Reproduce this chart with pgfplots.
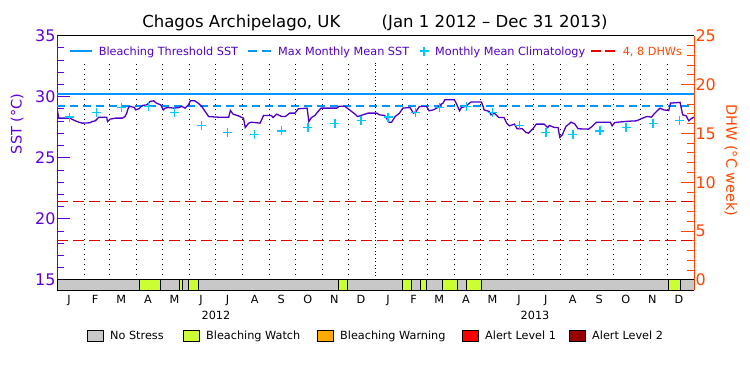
\documentclass[border=0pt]{standalone}
\usepackage{pgfplots}
\pgfplotsset{compat=1.18}
\usepackage{fontspec}
\setmainfont{DejaVu Sans}
\definecolor{sstpurple}{HTML}{5000C8}
\definecolor{axpurple}{HTML}{6000DC}
\definecolor{thrblue}{HTML}{0096FF}
\definecolor{climcyan}{HTML}{00C8FF}
\definecolor{dhwred}{HTML}{E60000}
\definecolor{dhworange}{HTML}{FF4600}
\definecolor{nostress}{HTML}{C8C8C8}
\definecolor{watch}{HTML}{CCFF33}
\definecolor{warning}{HTML}{FFAA00}
\definecolor{alertone}{HTML}{FF0000}
\definecolor{alerttwo}{HTML}{960000}
\newcommand{\lgfont}{\fontsize{11.3}{12}\selectfont}
\newcommand{\tkfont}{\fontsize{16}{16}\selectfont}

\pgfplotstableread{
d sst
0 29.05
2 28.25
15 28.25
17 28.17
21 28.03
25 27.92
29 27.84
38 27.87
40 27.97
44 28.03
48 28.33
57 28.33
58 27.97
61 28.17
67 28.25
75 28.25
78 28.38
80 28.66
82 29.12
84 29.21
89 29.12
90 28.93
94 29.02
98 29.29
103 29.34
107 29.62
111 29.67
114 29.48
119 29.34
122 28.93
124 29.07
128 29.12
134 29.07
140 29.12
143 29.21
147 29.07
151 29.34
153 29.67
158 29.67
162 29.48
166 29.21
170 28.80
174 28.38
185 28.33
197 28.33
199 28.88
202 28.58
208 28.44
214 28.25
216 27.48
220 27.84
223 27.92
233 27.84
237 28.47
246 28.47
248 28.30
252 28.58
258 28.38
262 28.38
267 28.66
273 28.66
277 29.02
287 29.07
289 27.97
292 28.30
296 28.47
298 28.66
303 29.07
321 29.07
324 29.23
330 29.23
334 29.02
342 28.58
345 28.38
351 28.52
357 28.66
367 28.66
370 28.52
376 28.47
378 28.25
381 27.92
384 27.92
388 28.38
393 28.66
397 29.07
405 29.12
409 28.66
412 28.80
416 29.21
424 29.21
427 28.85
432 28.93
437 29.12
441 29.40
443 29.48
445 29.75
456 29.75
458 29.48
462 28.85
464 29.12
469 29.21
475 29.57
487 29.57
489 29.21
490 28.93
496 28.80
498 28.52
502 28.66
507 28.30
513 28.30
516 27.84
519 27.62
525 27.76
528 27.38
534 27.38
538 27.08
541 27.02
546 27.38
550 27.76
559 27.76
563 27.48
565 27.65
571 27.48
575 27.48
577 26.67
580 26.90
584 27.57
590 27.92
594 27.79
598 27.38
610 27.35
614 27.57
619 27.92
635 27.92
637 27.62
640 27.89
648 27.95
656 28.00
665 28.03
671 28.22
677 28.39
682 28.33
686 28.66
692 29.07
696 28.93
702 28.87
704 29.48
715 29.54
718 28.52
722 28.44
725 28.03
728 28.22
731 28.33
}\sstdata

\pgfplotstableread{
d clim
14 28.34
45 28.74
74 29.15
105 29.21
135 28.74
166 27.65
196 27.08
227 26.89
258 27.21
288 27.48
319 27.84
349 28.06
380 28.34
411 28.74
439 29.15
470 29.21
500 28.74
531 27.65
561 27.08
592 26.89
623 27.21
653 27.48
684 27.84
714 28.06
}\climdata

\begin{document}
\begin{tikzpicture}[x=1bp,y=1bp]
\path[use as bounding box] (0,0) rectangle (750,375);

% DHW axis (right)
\begin{axis}[
  at={(57bp,85bp)}, anchor=south west,
  scale only axis, width=637bp, height=254.3bp,
  xmin=0, xmax=731, ymin=-1.0234, ymax=25,
  axis x line=none, axis y line*=right,
  ytick={0,5,10,15,20,25},
  minor ytick={1,2,3,4,6,7,8,9,11,12,13,14,16,17,18,19,21,22,23,24},
  tick align=inside,
  major tick length=13bp, minor tick length=7bp,
  y axis line style={dhworange, line width=1bp},
  ytick style={dhworange, line width=1bp},
  minor tick style={dhworange, line width=1bp},
  /pgf/number format/assume math mode=true,
  yticklabel style={dhworange, font=\tkfont, anchor=west, xshift=-2bp},
]
\addplot[dhwred, line width=1.1bp, dash pattern=on 11bp off 5bp] coordinates {(0,4) (731,4)};
\addplot[dhwred, line width=1.1bp, dash pattern=on 11bp off 5bp] coordinates {(0,8) (731,8)};
\end{axis}

% SST axis (left)
\begin{axis}[
  at={(57bp,85bp)}, anchor=south west,
  scale only axis, width=637bp, height=254.3bp,
  xmin=0, xmax=731, ymin=14.181, ymax=35,
  axis x line*=top, axis y line*=left,
  xtick=\empty,
  ytick={15,20,25,30,35},
  minor ytick={16,17,18,19,21,22,23,24,26,27,28,29,31,32,33,34},
  tick align=inside,
  major tick length=13bp, minor tick length=7bp,
  y axis line style={axpurple, line width=1bp},
  x axis line style={black, line width=1bp},
  ytick style={axpurple, line width=1bp},
  minor tick style={axpurple, line width=1bp},
  /pgf/number format/assume math mode=true,
  yticklabel style={axpurple, font=\tkfont, anchor=east, xshift=2bp},
]
\pgfplotsinvokeforeach{31,60,91,121,152,182,213,244,274,305,335,397,425,456,486,517,547,578,609,639,670,700}{
  \draw[black, line width=1bp, dash pattern=on 1bp off 4bp] (axis cs:#1,15) -- (axis cs:#1,32.8);
}
\draw[black, line width=1bp, dash pattern=on 1bp off 2.5bp] (axis cs:366,15) -- (axis cs:366,32.8);
\addplot[thrblue, line width=1.3bp] coordinates {(0,30.22) (731,30.22)};
\addplot[thrblue, line width=1.3bp, dash pattern=on 8bp off 5bp] coordinates {(0,29.25) (731,29.25)};
\addplot[sstpurple, line width=1.3bp] table[x=d, y=sst] {\sstdata};
\addplot[only marks, mark=+, mark size=4.5bp, climcyan, mark options={line width=1.3bp}] table[x=d, y=clim] {\climdata};
% stress bar
\addplot[fill=nostress, draw=black, line width=1bp] coordinates {(0,14.181) (731,14.181) (731,15) (0,15)} -- cycle;
\addplot[fill=watch, draw=black, line width=1bp] coordinates {(94.5,14.181) (119,14.181) (119,15) (94.5,15)} -- cycle;
\addplot[fill=watch, draw=black, line width=1bp] coordinates {(140.4,14.181) (143.8,14.181) (143.8,15) (140.4,15)} -- cycle;
\addplot[fill=watch, draw=black, line width=1bp] coordinates {(151.1,14.181) (162.6,14.181) (162.6,15) (151.1,15)} -- cycle;
\addplot[fill=watch, draw=black, line width=1bp] coordinates {(322.9,14.181) (333.6,14.181) (333.6,15) (322.9,15)} -- cycle;
\addplot[fill=watch, draw=black, line width=1bp] coordinates {(396.3,14.181) (406.6,14.181) (406.6,15) (396.3,15)} -- cycle;
\addplot[fill=watch, draw=black, line width=1bp] coordinates {(417.3,14.181) (423.8,14.181) (423.8,15) (417.3,15)} -- cycle;
\addplot[fill=watch, draw=black, line width=1bp] coordinates {(442.6,14.181) (459.8,14.181) (459.8,15) (442.6,15)} -- cycle;
\addplot[fill=watch, draw=black, line width=1bp] coordinates {(469.7,14.181) (486.9,14.181) (486.9,15) (469.7,15)} -- cycle;
\addplot[fill=watch, draw=black, line width=1bp] coordinates {(702,14.181) (715.7,14.181) (715.7,15) (702,15)} -- cycle;
\end{axis}

% month and year labels (pixel placement: x = 57 + day*637/731)
\foreach \d/\m in {15.5/J,45.5/F,75.5/M,106/A,136.5/M,167/J,197.5/J,228.5/A,259/S,289.5/O,320/N,350.5/D,381.5/J,411/F,440.5/M,471/A,501.5/M,532/J,562.5/J,593.5/A,624/S,654.5/O,685/N,715.5/D}{
  \node[anchor=base, inner sep=0, font=\lgfont] at ({57+\d/731*637-1.5}, 71.5) {\m};
}
\node[anchor=base, inner sep=0, font=\lgfont] at (216, 55.5) {2012};
\node[anchor=base, inner sep=0, font=\lgfont] at (535, 55.5) {2013};

% title
\node[anchor=base, inner sep=0, font=\fontsize{16.6}{16.6}\selectfont] at (375, 347.5) {Chagos Archipelago, UK\hspace{2.5em}(Jan 1 2012 -- Dec 31 2013)};

% axis labels
\node[rotate=90, inner sep=0, text=axpurple, font=\fontsize{14.5}{14.5}\selectfont] at (17, 251) {SST (°C)};
\node[rotate=-90, inner sep=0, text=dhworange, font=\fontsize{14.5}{14.5}\selectfont] at (731, 214.5) {DHW (°C week)};

% top legend
\draw[thrblue, line width=1.3bp] (70,324) -- (92,324);
\node[anchor=base west, inner sep=0, text=sstpurple, font=\lgfont] at (98.6, 319.8) {Bleaching Threshold SST};
\draw[thrblue, line width=1.3bp] (248,324) -- (257,324) (262,324) -- (271,324);
\node[anchor=base west, inner sep=0, text=sstpurple, font=\lgfont] at (278, 319.8) {Max Monthly Mean SST};
\draw[climcyan, line width=1.3bp] (419.5,324) -- (428.5,324) (424,319.5) -- (424,328.5);
\node[anchor=base west, inner sep=0, text=sstpurple, font=\lgfont] at (435, 319.8) {Monthly Mean Climatology};
\draw[dhwred, line width=1.3bp] (591,324) -- (601,324) (605,324) -- (615,324);
\node[anchor=base west, inner sep=0, text=dhworange, font=\lgfont] at (622.6, 319.8) {4, 8 DHWs};

% bottom legend
\foreach \bx/\col/\lab in {87/nostress/No Stress, 183/watch/Bleaching Watch, 317/warning/Bleaching Warning, 462/alertone/Alert Level 1, 569/alerttwo/Alert Level 2}{
  \filldraw[fill=\col, draw=black, line width=1bp] (\bx,34) rectangle ++(16,11);
  \node[anchor=base west, inner sep=0, font=\lgfont] at (\bx+23, 35.3) {\lab};
}
\end{tikzpicture}
\end{document}
